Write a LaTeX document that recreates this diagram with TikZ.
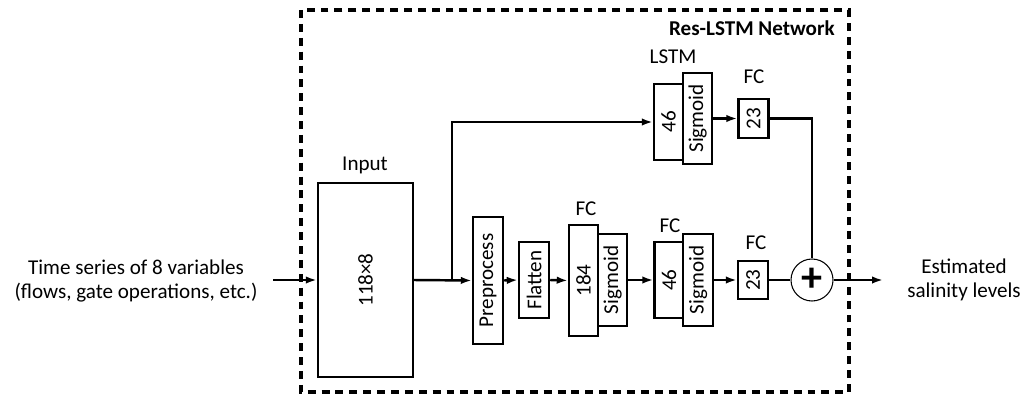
\documentclass[tikz,border=0pt]{standalone}
\usepackage{fontspec}
\setmainfont{Carlito}
\usepackage{tikz}
\usetikzlibrary{arrows.meta,calc,positioning}
\newcommand{\rot}[1]{\rotatebox{90}{#1}}
\tikzset{
  layer/.style={draw, line width=1.4pt, fill=white, inner sep=0pt, align=center, font=\fontsize{12}{14}\selectfont},
  caption/.style={align=center, inner sep=0pt, font=\fontsize{12}{14}\selectfont},
  sumnode/.style={draw, circle, line width=0.6pt, minimum size=0.84cm, inner sep=0pt, font=\fontsize{24}{24}\selectfont\bfseries},
  flow/.style={-{Latex[length=2.2mm,width=1.5mm]}, line width=1.4pt},
  link/.style={line width=1.4pt},
  frame/.style={line width=2pt, dash pattern=on 4.5pt off 3.4pt}
}

\begin{document}
\begin{tikzpicture}[x=1cm,y=1cm]
  \useasboundingbox (0,0) rectangle (20.7,-7.88);
  \draw[frame] (6.02,-0.2) rectangle (16.98,-7.84);
  \node[caption, anchor=east, font=\fontsize{12}{14}\selectfont\bfseries] (title) at (16.7,-0.56) {Res-LSTM Network};

  % main path
  \node[layer, minimum width=1.9cm, minimum height=3.88cm] (input) at (7.31,-5.6) {\rot{118×8}};
  \node[layer, minimum width=0.6cm, minimum height=2.54cm] (pre) at (9.76,-5.61) {\rot{Preprocess}};
  \node[layer, minimum width=0.6cm, minimum height=1.52cm] (flat) at (10.68,-5.6) {\rot{Flatten}};
  \node[layer, minimum width=0.58cm, minimum height=2.22cm] (fcA) at (11.67,-5.61) {\rot{184}};
  \node[layer, minimum width=0.58cm, minimum height=1.84cm] (sigA) at (12.25,-5.6) {\rot{Sigmoid}};
  \node[layer, minimum width=0.58cm, minimum height=1.52cm] (fcB) at (13.38,-5.6) {\rot{46}};
  \node[layer, minimum width=0.6cm, minimum height=1.84cm] (sigB) at (13.96,-5.6) {\rot{Sigmoid}};
  \node[layer, minimum width=0.6cm, minimum height=0.76cm] (fcC) at (15.06,-5.6) {\rot{23}};
  \node[sumnode] (sum) at (16.24,-5.6) {+};

  % residual path
  \node[layer, minimum width=0.58cm, minimum height=1.52cm] (lstm) at (13.37,-2.44) {\rot{46}};
  \node[layer, minimum width=0.58cm, minimum height=1.82cm] (lsig) at (13.95,-2.37) {\rot{Sigmoid}};
  \node[layer, minimum width=0.6cm, minimum height=0.78cm] (lfc) at (15.07,-2.37) {\rot{23}};

  \node[caption] (inlabel) at (7.3,-3.3) {Input};
  \node[caption] (lstmlabel) at (13.46,-1.14) {LSTM};
  \node[caption] (fclabelD) at (15.08,-1.54) {FC};
  \node[caption] (fclabelA) at (11.72,-4.18) {FC};
  \node[caption] (fclabelB) at (13.4,-4.52) {FC};
  \node[caption] (fclabelC) at (15.12,-4.86) {FC};

  \node[caption] (series) at (2.72,-5.62) {Time series of 8 variables\\(flows, gate operations, etc.)};
  \node[caption] (salinity) at (19.28,-5.6) {Estimated\\salinity levels};

  \coordinate (src) at (5.46,-5.6);
  \coordinate (dst) at (17.66,-5.6);
  \coordinate (split) at (9.04,-5.6);

  \draw[flow] (src) -- (input.west);
  \draw[flow] (input.east) -- (pre.west);
  \draw[flow] (pre.east) -- (flat.west);
  \draw[flow] (flat.east) -- (fcA.west);
  \draw[flow] (sigA.east) -- (fcB.west);
  \draw[flow] (sigB.east) -- (fcC.west);
  \draw[link] (fcC.east) -- (sum.west);
  \draw[flow] (split) |- (lstm.west);
  \draw[flow] (lsig.east) -- (lfc.west);
  \draw[link] (lfc.east) -| (sum.north);
  \draw[flow] (sum.east) -- (dst);
\end{tikzpicture}
\end{document}
